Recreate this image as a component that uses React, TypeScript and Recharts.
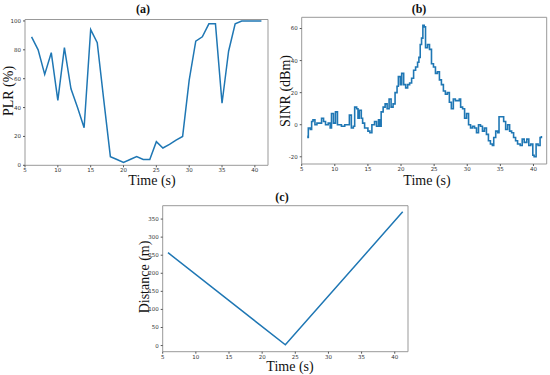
import React from "react";
import { LineChart, Line, XAxis, YAxis, ReferenceArea } from "recharts";

// ---- Data ----
const timeTicks = [5, 10, 15, 20, 25, 30, 35, 40];

const plrTime = [6, 7, 8, 9, 10, 11, 12, 13, 14, 15, 16, 17, 18, 19, 20, 21, 22, 23, 24, 25, 26, 27, 28, 29, 30, 31, 32, 33, 34, 35, 36, 37, 38, 39, 40, 41];
const plrValue = [89, 80, 63, 78, 45, 81.5, 53, 40, 26, 94, 85, 45, 6, 4, 2, 4, 6, 4, 4, 16.4, 12, 14.5, 17.5, 20, 59, 86, 89, 98, 98, 43, 79, 98, 100, 100, 100, 100];
const plrTicks = [0, 20, 40, 60, 80, 100];

const sinrTime = [5.85, 5.95, 6.0, 6.3, 6.5, 6.7, 7.0, 7.3, 7.6, 8.0, 8.3, 8.6, 9.0, 9.3, 9.5, 9.8, 10.1, 10.4, 10.7, 11.0, 11.5, 12.0, 12.2, 12.5, 12.8, 13.0, 13.3, 13.5, 13.7, 14.0, 14.2, 14.5, 15.0, 15.3, 15.6, 16.0, 16.3, 16.6, 16.8, 17.0, 17.3, 17.6, 17.9, 18.2, 18.5, 18.8, 19.1, 19.4, 19.6, 19.9, 20.1, 20.4, 20.7, 21.0, 21.3, 21.6, 21.9, 22.2, 22.5, 22.7, 22.9, 23.1, 23.3, 23.5, 23.7, 24.0, 24.3, 24.6, 24.9, 25.2, 25.5, 25.8, 26.1, 26.4, 26.7, 27.0, 27.3, 27.6, 27.9, 28.2, 28.5, 28.8, 29.0, 29.3, 29.6, 29.9, 30.2, 30.5, 30.8, 31.1, 31.4, 31.7, 32.0, 32.3, 32.6, 32.9, 33.2, 33.5, 33.8, 34.0, 34.3, 34.6, 34.8, 35.2, 35.5, 35.8, 36.1, 36.4, 36.7, 37.0, 37.3, 37.6, 38.0, 38.3, 38.6, 39.0, 39.3, 39.6, 39.9, 40.1, 40.4, 40.7, 41.0, 41.2];
const sinrValue = [-7, -8, -2, -3, 2, 3, 0, 1, 1, 4, 2, 0, 1, -2, 7, 1, 8, 0, 0, -1, 0, 0, 6, -2, -1, 11, 10, 4, 9, 4, 1, -2, -4, -5, 0, 2, -1, 3, -1, 8, 11, 13, 10, 16, 11, 13, 20, 24, 30, 25, 32, 25, 23, 25, 26, 29, 34, 36, 39, 42, 50, 54, 62, 61, 48, 50, 47, 38, 36, 32, 33, 28, 25, 21, 19, 20, 14, 10, 16, 15, 15, 16, 11, 10, 4, 7, 0, -2, -1, -2, -5, 0, -1, -4, -2, -6, -10, -12, -13, -8, -4, -5, 5, 5, 2, -3, 0, -4, -5, -8, -10, -12, -13, -9, -11, -9, -13, -12, -19, -20, -12, -13, -8, -7];
const sinrTicks = [-20, 0, 20, 40, 60];

const distTime = [5.8, 23.5, 41.2];
const distValue = [257, 2, 370];
const distTicks = [0, 50, 100, 150, 200, 250, 300, 350];

const plrData = plrTime.map((t, i) => ({ t, v: plrValue[i] }));
const sinrData = sinrTime.map((t, i) => ({ t, v: sinrValue[i] }));
const distData = distTime.map((t, i) => ({ t, v: distValue[i] }));

// ---- Styles ----
const LINE = "#1f77b4";
const FRAME = "#999999";
const tickStyle = { fontSize: 5.5, fill: "#333", fontFamily: "DejaVu Sans" };
const serif = "'Liberation Serif', 'DejaVu Serif', serif";
const X_DOMAIN: [number, number] = [5, 42];

type PanelProps = {
  data: { t: number; v: number }[];
  yDomain: [number, number];
  yTicks: number[];
  left: number;
  top: number;
  width: number;
  height: number;
  yWidth: number;
  margin: { top: number; right: number; bottom: number; left: number };
  curve?: "linear" | "stepAfter";
  strokeWidth?: number;
};

function Panel({ data, yDomain, yTicks, left, top, width, height, yWidth, margin, curve = "linear", strokeWidth = 1.5 }: PanelProps) {
  return (
    <div style={{ position: "absolute", left, top }}>
      <LineChart width={width} height={height} data={data} margin={margin}>
        <XAxis
          dataKey="t"
          type="number"
          domain={X_DOMAIN}
          ticks={timeTicks}
          interval={0}
          allowDataOverflow
          height={15}
          tick={tickStyle}
          tickSize={2}
          tickMargin={1}
          axisLine={false}
          tickLine={{ stroke: "#555" }}
        />
        <YAxis
          type="number"
          domain={yDomain}
          ticks={yTicks}
          interval={0}
          allowDataOverflow
          width={yWidth}
          tick={tickStyle}
          tickSize={2}
          tickMargin={2}
          axisLine={false}
          tickLine={{ stroke: "#555" }}
        />
        <ReferenceArea
          x1={X_DOMAIN[0]}
          x2={X_DOMAIN[1]}
          y1={yDomain[0]}
          y2={yDomain[1]}
          fill="none"
          fillOpacity={0}
          stroke={FRAME}
          strokeWidth={1}
          ifOverflow="visible"
        />
        <Line
          dataKey="v"
          type={curve}
          stroke={LINE}
          strokeWidth={strokeWidth}
          dot={false}
          isAnimationActive={false}
        />
      </LineChart>
    </div>
  );
}

function Txt({ x, y, text, size, bold, rotate }: { x: number; y: number; text: string; size: number; bold?: boolean; rotate?: boolean }) {
  return (
    <div
      style={{
        position: "absolute",
        left: x,
        top: y,
        transform: `translate(-50%, -50%)${rotate ? " rotate(-90deg)" : ""}`,
        fontFamily: serif,
        fontSize: size,
        fontWeight: bold ? "bold" : "normal",
        color: "#111",
        whiteSpace: "nowrap",
        lineHeight: 1,
      }}
    >
      {text}
    </div>
  );
}

export default function App() {
  return (
    <div style={{ position: "absolute", left: 0, top: 0, width: 550, height: 375, background: "#fff", overflow: "hidden" }}>
      <Panel
        data={plrData}
        yDomain={[0, 101]}
        yTicks={plrTicks}
        left={0}
        top={0}
        width={272}
        height={185}
        yWidth={25}
        margin={{ top: 19.5, right: 4, bottom: 4.7, left: 0 }}
      />
      <Panel
        data={sinrData}
        yDomain={[-24.5, 67]}
        yTicks={sinrTicks}
        left={275}
        top={0}
        width={275}
        height={185}
        yWidth={26.7}
        margin={{ top: 17.3, right: 3.3, bottom: 6, left: 0 }}
        curve="stepAfter"
        strokeWidth={1.6}
      />
      <Panel
        data={distData}
        yDomain={[-17, 387]}
        yTicks={distTicks}
        left={130}
        top={195}
        width={280}
        height={175}
        yWidth={32.7}
        margin={{ top: 10.7, right: 2, bottom: 3.3, left: 0 }}
      />
      <Txt x={143} y={9} text="(a)" size={12} bold />
      <Txt x={419} y={9} text="(b)" size={12} bold />
      <Txt x={282} y={197} text="(c)" size={12} bold />
      <Txt x={152} y={181} text="Time (s)" size={14} />
      <Txt x={427} y={181} text="Time (s)" size={14} />
      <Txt x={290} y={367} text="Time (s)" size={14} />
      <Txt x={9} y={91} text="PLR (%)" size={14} rotate />
      <Txt x={286} y={91} text="SINR (dBm)" size={14} rotate />
      <Txt x={145} y={277} text="Distance (m)" size={14} rotate />
    </div>
  );
}
